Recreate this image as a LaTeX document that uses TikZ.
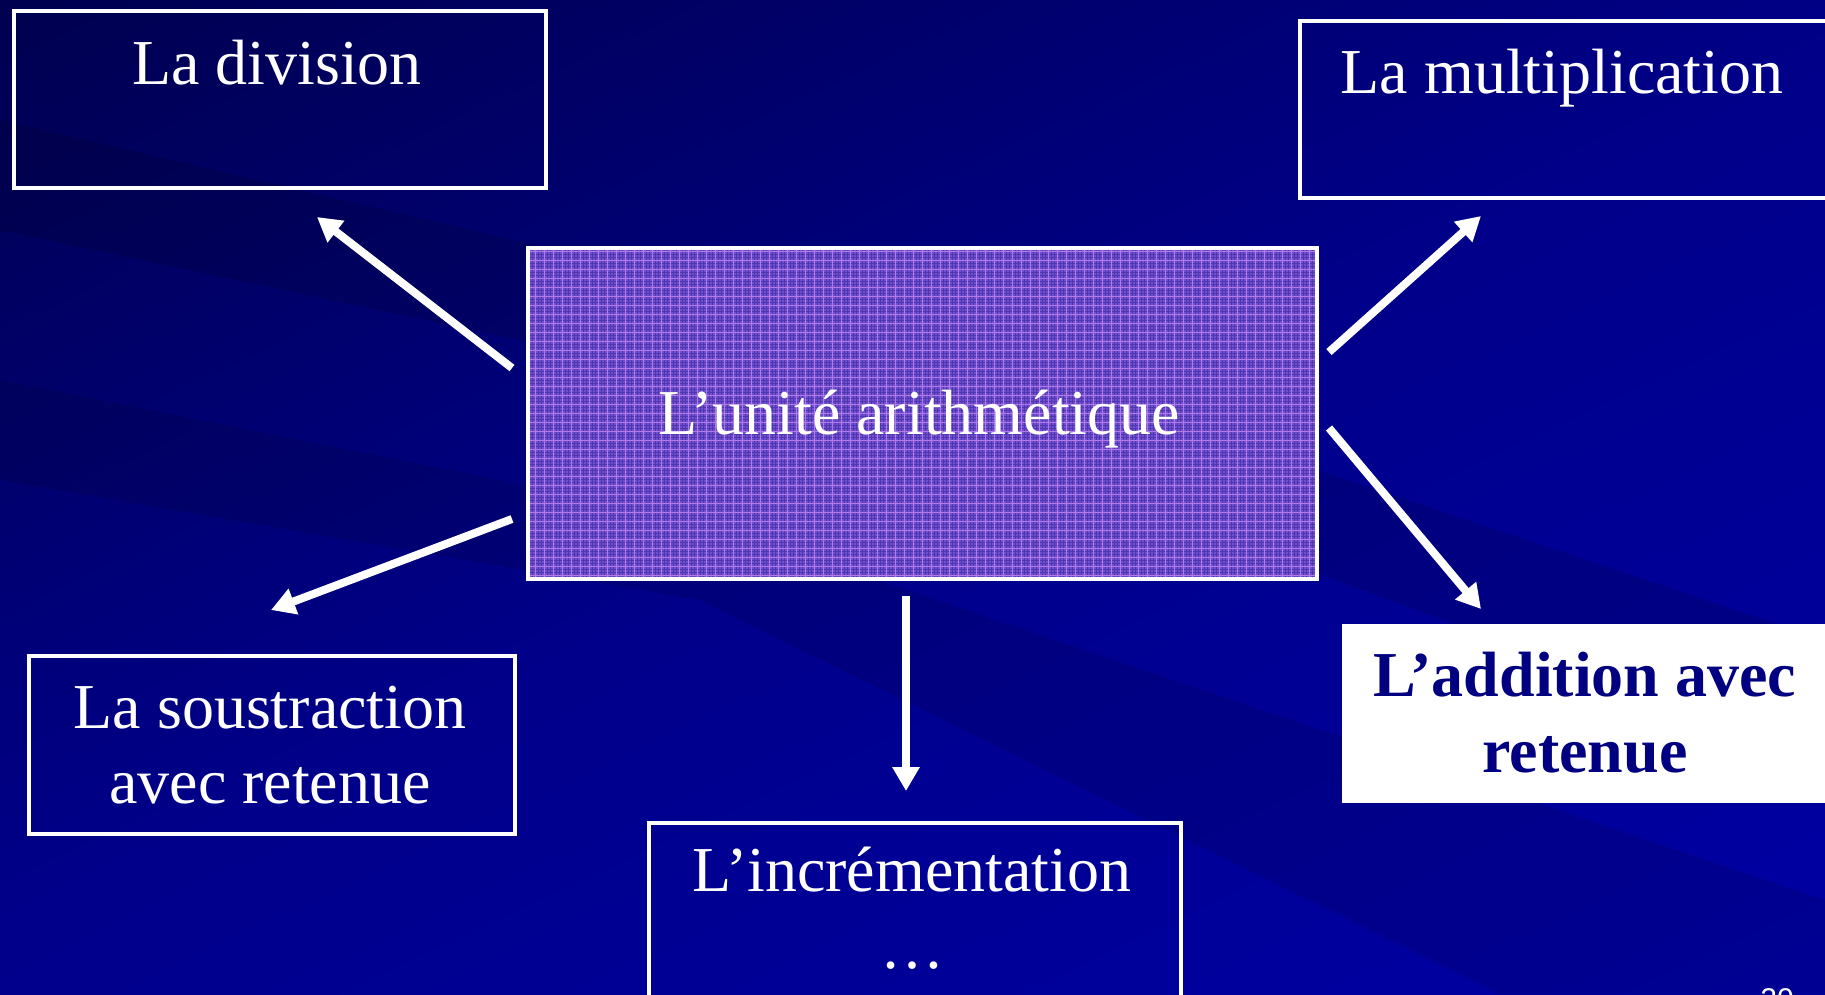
\documentclass[tikz,border=0pt]{standalone}
\usepackage{fontspec}
\setmainfont{Liberation Serif}
\newfontfamily\pnfont{Liberation Sans}
\usetikzlibrary{arrows.meta}
\definecolor{bgdark}{HTML}{000050}
\definecolor{bgmid}{HTML}{00008A}
\definecolor{bglight}{HTML}{0000A4}
\definecolor{gridpurple}{HTML}{7050D0}
\definecolor{gridline}{HTML}{C585F0}
\definecolor{navytext}{HTML}{000080}
\begin{document}
\begin{tikzpicture}[x=1pt,y=-1pt,
  box/.style={draw=white, line width=4pt, inner sep=0pt, anchor=north west},
  lbl/.style={text=white, font=\fontsize{64}{75}\selectfont, inner sep=0pt, anchor=base},
  arr/.style={draw=white, line width=8pt, -{Triangle[width=26pt,length=24pt]}},
]
\useasboundingbox (0,0) rectangle (1825,994);
% background
\shade[top color=bgdark, bottom color=bglight, middle color=bgmid, shading angle=25] (-200,-200) rectangle (2025,1194);
\fill[black, opacity=0.12] (0,120) -- (900,330) -- (1825,640) -- (1825,760) -- (900,420) -- (0,230) -- cycle;
\fill[black, opacity=0.10] (0,380) -- (700,520) -- (1825,900) -- (1825,994) -- (1500,994) -- (700,600) -- (0,480) -- cycle;

% boxes
\node[box, minimum width=532pt, minimum height=177pt] (div) at (12,9) {};
\node[box, minimum width=537pt, minimum height=177pt] (mul) at (1298,19) {};
\node[box, minimum width=789pt, minimum height=331pt,
  path picture={
    \fill[gridpurple] (path picture bounding box.south west) rectangle (path picture bounding box.north east);
    \draw[black!60!blue, line width=0.8pt, opacity=0.3] (path picture bounding box.south west) grid[step=3pt] (path picture bounding box.north east);
    \draw[gridline, line width=1.1pt, opacity=0.85] (path picture bounding box.south west) grid[step=9pt] (path picture bounding box.north east);
  }] (unit) at (526,246) {};
\node[box, minimum width=486pt, minimum height=178pt] (sous) at (27,654) {};
\node[box, minimum width=532pt, minimum height=200pt] (inc) at (647,821) {};
\node[fill=white, inner sep=0pt, anchor=north west, minimum width=500pt, minimum height=179pt] (add) at (1342,624) {};

% texts
\node[lbl] (tdiv) at (277,84) {La division};
\node[lbl] (tmul) at (1562,93) {La multiplication};
\node[lbl] (tunit) at (919,434) {L’unité arithmétique};
\node[lbl, align=center] (tsous) at (270,803) {La soustraction\\avec retenue};
\node[lbl, align=center] (tinc) at (912,968) {L’incrémentation\\[2pt]…};
\node[lbl, text=navytext, font=\fontsize{64}{76}\selectfont\bfseries, align=center] (tadd) at (1585,772) {L’addition avec\\retenue};
\node[text=white, font=\pnfont\fontsize{30}{36}\selectfont, inner sep=0pt, anchor=base] (pn) at (1777,1009) {20};

% arrows
\coordinate (s1) at (512,368); \coordinate (e1) at (317,217);
\coordinate (s2) at (1329,352); \coordinate (e2) at (1481,216);
\coordinate (s3) at (512,519); \coordinate (e3) at (271,610);
\coordinate (s4) at (906,596); \coordinate (e4) at (906,791);
\coordinate (s5) at (1329,428); \coordinate (e5) at (1481,609);
\draw[arr] (s1) -- (e1);
\draw[arr] (s2) -- (e2);
\draw[arr] (s3) -- (e3);
\draw[arr] (s4) -- (e4);
\draw[arr] (s5) -- (e5);
\end{tikzpicture}
\end{document}
